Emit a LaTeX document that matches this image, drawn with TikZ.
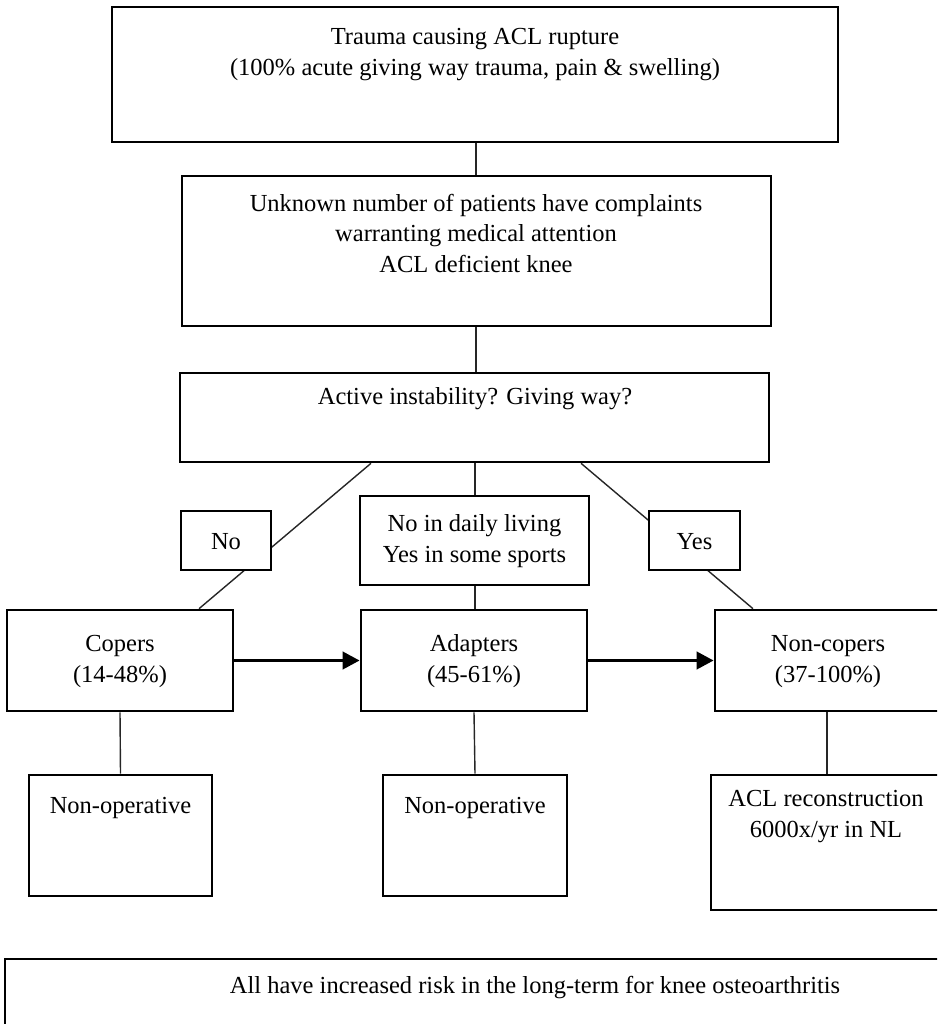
\documentclass[tikz,border=0pt]{standalone}
\usepackage{fontspec}
\setmainfont{Liberation Serif}
\usetikzlibrary{arrows.meta}
\tikzset{
  box/.style={draw=black, line width=2.6pt, fill=white, rectangle, inner sep=0pt},
  txt/.style={align=center, inner sep=0pt, anchor=base, font=\fontsize{24.5}{30.5}\selectfont},
  conn/.style={draw=black!85, line width=1.4pt},
  flow/.style={draw=black, line width=3.8pt, -{Triangle[length=17pt,width=17pt]}}
}
\begin{document}
\begin{tikzpicture}[x=1pt,y=-1pt]
\useasboundingbox (0,0) rectangle (937,1024);
\clip (0,0) rectangle (937,1024);

% boxes
\node[box, minimum width=726pt, minimum height=135pt] (b1) at (475,74.5) {};
\node[box, minimum width=589pt, minimum height=150pt] (b2) at (476.5,251) {};
\node[box, minimum width=589pt, minimum height=89pt] (b3) at (474.5,417.5) {};
\node[box, minimum width=226pt, minimum height=101pt] (copers) at (120,660.5) {};
\node[box, minimum width=226pt, minimum height=101pt] (adapters) at (474,660.5) {};
\node[box, minimum width=226pt, minimum height=101pt] (noncopers) at (828,660.5) {};
\node[box, minimum width=183pt, minimum height=121pt] (nonop1) at (120.5,835.5) {};
\node[box, minimum width=184pt, minimum height=121pt] (nonop2) at (475,835.5) {};
\node[box, minimum width=232pt, minimum height=135pt] (acl) at (827,842.5) {};
\node[box, minimum width=1060pt, minimum height=141pt] (bottom) at (535,1029.5) {};

% connectors
\draw[conn] (476,0 |- b1.south) -- (476,0 |- b2.north);
\draw[conn] (476,0 |- b2.south) -- (476,0 |- b3.north);
\draw[conn] (371,0 |- b3.south) -- (199,0 |- copers.north);
\draw[conn] (581,0 |- b3.south) -- (753,0 |- noncopers.north);
\draw[conn] (475,0 |- b3.south) -- (475,0 |- adapters.north);
\draw[conn] (copers.south) -- (nonop1.north);
\draw[conn] (adapters.south) -- (nonop2.north);
\draw[conn] (827,0 |- noncopers.south) -- (827,0 |- acl.north);

% label boxes on top of connectors
\node[box, minimum width=90pt, minimum height=59pt] (no) at (226,540.5) {};
\node[box, minimum width=229pt, minimum height=89pt] (mid) at (474.5,540.5) {};
\node[box, minimum width=91pt, minimum height=59pt] (yes) at (694.5,540.5) {};

% flow arrows
\draw[flow] (copers.east) -- (adapters.west);
\draw[flow] (adapters.east) -- (noncopers.west);

% texts (anchor base = baseline of last line)
\node[txt] (t1) at (475,75.5) {Trauma causing ACL rupture\\(100\% acute giving way trauma, pain \& swelling)};
\node[txt] (t2) at (476,272) {Unknown number of patients have complaints\\warranting medical attention\\ACL deficient knee};
\node[txt] (t3) at (475,404) {Active instability? Giving way?};
\node[txt] (tno) at (226,549) {No};
\node[txt] (tmid) at (474.5,562) {No in daily living\\Yes in some sports};
\node[txt] (tyes) at (694.5,549) {Yes};
\node[txt] (tcop) at (120,682) {Copers\\(14-48\%)};
\node[txt] (tada) at (474,682) {Adapters\\(45-61\%)};
\node[txt] (tnon) at (828,682) {Non-copers\\(37-100\%)};
\node[txt] (tno1) at (120.5,813) {Non-operative};
\node[txt] (tno2) at (475,813) {Non-operative};
\node[txt] (tacl) at (826,837) {ACL reconstruction\\6000x/yr in NL};
\node[txt] (tbot) at (535,993) {All have increased risk in the long-term for knee osteoarthritis};
\end{tikzpicture}
\end{document}
